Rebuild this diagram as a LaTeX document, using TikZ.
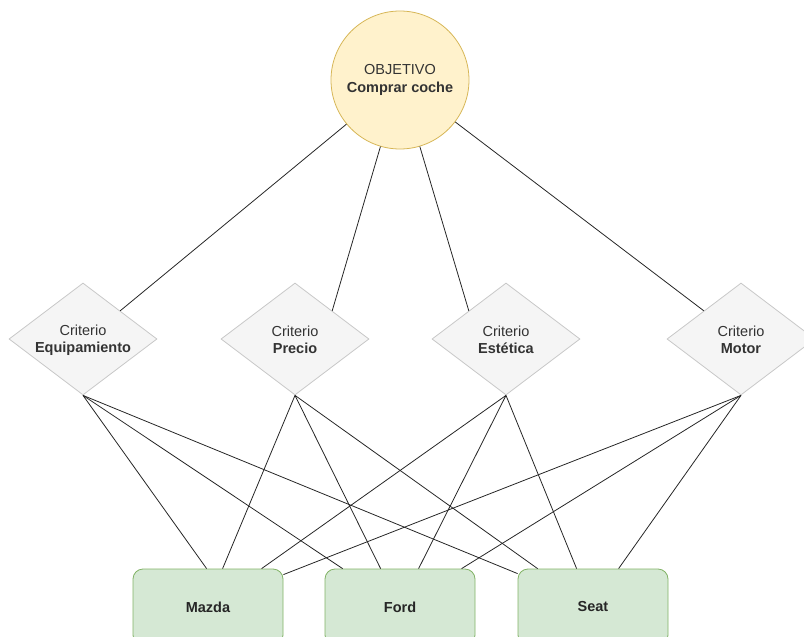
\documentclass[tikz,border=0pt]{standalone}
\usepackage{fontspec}
\setmainfont{Liberation Sans}
\usetikzlibrary{shapes.geometric,calc}
\definecolor{objfill}{HTML}{FFF2CC}
\definecolor{objdraw}{HTML}{D6B656}
\definecolor{crfill}{HTML}{F5F5F5}
\definecolor{crdraw}{HTML}{C8C8C8}
\definecolor{crtext}{HTML}{333333}
\definecolor{altfill}{HTML}{D5E8D4}
\definecolor{altdraw}{HTML}{82B366}
\begin{document}
\begin{tikzpicture}[x=1pt,y=-1pt,
  every node/.style={font=\fontsize{14.5}{17.5}\selectfont, text=crtext, align=center},
  objective/.style={circle, draw=objdraw, fill=objfill, minimum size=138pt, inner sep=0pt, line width=0.8pt},
  criterion/.style={diamond, draw=crdraw, fill=crfill, minimum width=148pt, minimum height=112pt, inner sep=0pt, line width=0.8pt},
  crlabel/.style={inner sep=0pt},
  alternative/.style={rectangle, rounded corners=10pt, draw=altdraw, fill=altfill, minimum width=150pt, minimum height=76pt, inner sep=0pt, line width=0.8pt, font=\fontsize{14.5}{17.5}\selectfont\bfseries, text=black!85},
  edge/.style={draw=black!85, line width=0.8pt}]
\useasboundingbox (0,0) rectangle (804,637);
\clip (0,0) rectangle (804,637);
% nodes
\node[objective] (obj) at (400,80) {OBJETIVO\\\textbf{Comprar coche}};
\node[criterion] (equip) at (83,339) {};
\node[criterion] (precio) at (295,339) {};
\node[criterion] (estet) at (506,339) {};
\node[criterion] (motor) at (741,339) {};
\node[crlabel] (equipL) at (83,340) {Criterio\\\textbf{Equipamiento}};
\node[crlabel] (precioL) at (295,340) {Criterio\\\textbf{Precio}};
\node[crlabel] (estetL) at (506,340) {Criterio\\\textbf{Estética}};
\node[crlabel] (motorL) at (741,340) {Criterio\\\textbf{Motor}};
\node[alternative] (mazda) at (208,607) {Mazda};
\node[alternative] (ford) at (400,607) {Ford};
\node[alternative] (seat) at (593,607) {Seat};
% attachment points on criteria
\coordinate (equipT) at ($(equip.north)!0.5!(equip.east)$);
\coordinate (precioT) at ($(precio.north)!0.5!(precio.east)$);
\coordinate (estetT) at ($(estet.north)!0.5!(estet.west)$);
\coordinate (motorT) at ($(motor.north)!0.5!(motor.west)$);
% attachment points on alternatives
\coordinate (mz1) at ($(mazda.north west)+(74,0)$);
\coordinate (mz2) at ($(mazda.north west)+(90,0)$);
\coordinate (mz3) at ($(mazda.north west)+(129,0)$);
\coordinate (mz4) at ($(mazda.north east)+(0,6)$);
\coordinate (fd1) at ($(ford.north west)+(18,0)$);
\coordinate (fd2) at ($(ford.north west)+(56,0)$);
\coordinate (fd3) at ($(ford.north west)+(94,0)$);
\coordinate (fd4) at ($(ford.north west)+(137,0)$);
\coordinate (st1) at ($(seat.north west)+(0,5)$);
\coordinate (st2) at ($(seat.north west)+(20,0)$);
\coordinate (st3) at ($(seat.north west)+(59,0)$);
\coordinate (st4) at ($(seat.north west)+(101,0)$);
% objective to criteria
\draw[edge] (obj) -- (equipT);
\draw[edge] (obj) -- (precioT);
\draw[edge] (obj) -- (estetT);
\draw[edge] (obj) -- (motorT);
% criteria to alternatives
\draw[edge] (equip.south) -- (mz1);
\draw[edge] (equip.south) -- (fd1);
\draw[edge] (equip.south) -- (st1);
\draw[edge] (precio.south) -- (mz2);
\draw[edge] (precio.south) -- (fd2);
\draw[edge] (precio.south) -- (st2);
\draw[edge] (estet.south) -- (mz3);
\draw[edge] (estet.south) -- (fd3);
\draw[edge] (estet.south) -- (st3);
\draw[edge] (motor.south) -- (mz4);
\draw[edge] (motor.south) -- (fd4);
\draw[edge] (motor.south) -- (st4);
\end{tikzpicture}
\end{document}
